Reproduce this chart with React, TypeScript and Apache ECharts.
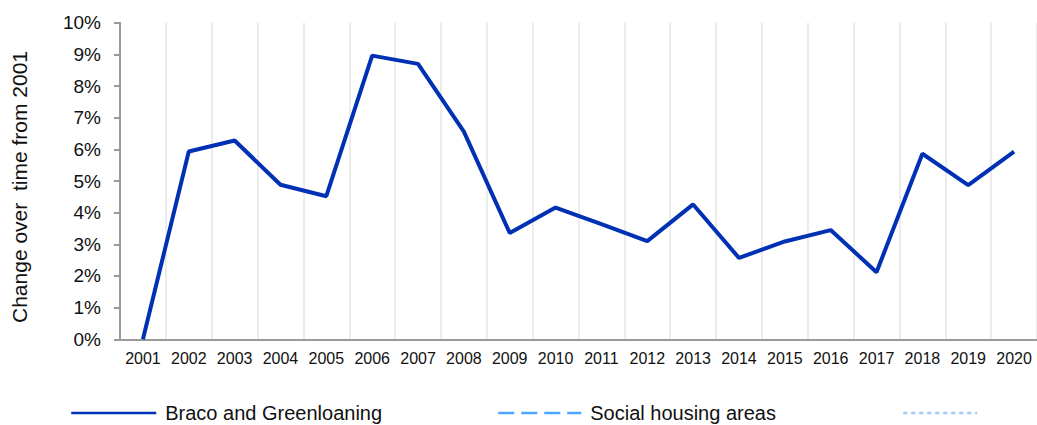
import React, { useEffect, useRef } from "react";
import * as echarts from "echarts";

const years = ["2001","2002","2003","2004","2005","2006","2007","2008","2009","2010","2011","2012","2013","2014","2015","2016","2017","2018","2019","2020"];
const bracoValues = [0, 5.93, 6.28, 4.88, 4.52, 8.96, 8.7, 6.56, 3.36, 4.16, 3.64, 3.1, 4.26, 2.57, 3.09, 3.45, 2.12, 5.86, 4.87, 5.93];
const socialValues: number[] = [];
const otherValues: number[] = [];
const yTicksMax = 10;
const seriesNames = ["Braco and Greenloaning", "Social housing areas", " "];

const FONT = "'Liberation Sans', Arial, sans-serif";

export default function App() {
  const ref = useRef<HTMLDivElement>(null);
  useEffect(() => {
    if (!ref.current) return;
    const chart = echarts.init(ref.current, undefined, { renderer: "svg" });
    const legendBase = {
      top: 403,
      padding: 0,
      itemWidth: 85,
      itemHeight: 14,
      itemStyle: { opacity: 0 },
      lineStyle: { width: 2.5 },
      textStyle: { fontFamily: FONT, fontSize: 20, color: "#111", padding: [0, 0, 0, 4] },
      selectedMode: false,
    };
    chart.setOption({
      animation: false,
      backgroundColor: "#fff",
      textStyle: { fontFamily: FONT },
      grid: { left: 120, top: 22.7, width: 918, height: 316.6, containLabel: false },
      legend: [
        { ...legendBase, left: 70, data: [seriesNames[0]] },
        { ...legendBase, left: 497, itemWidth: 83, data: [seriesNames[1]] },
        { ...legendBase, left: 902, itemWidth: 74, data: [seriesNames[2]] },
      ],
      xAxis: {
        type: "category",
        data: years,
        boundaryGap: true,
        axisLine: { show: true, lineStyle: { color: "#9a9a9a", width: 2 } },
        axisTick: { show: false },
        axisLabel: { color: "#111", fontSize: 16, margin: 11, fontFamily: FONT, interval: 0 },
        splitLine: { show: true, interval: 0, lineStyle: { color: "#ececec", width: 2 } },
      },
      yAxis: {
        type: "value",
        min: 0,
        max: yTicksMax,
        interval: 1,
        name: "Change over  time from 2001",
        nameLocation: "middle",
        nameGap: 90,
        nameRotate: 90,
        nameTextStyle: { fontSize: 21, color: "#111", fontFamily: FONT, padding: [0, 12, 0, 0] },
        axisLine: { show: true, lineStyle: { color: "#9a9a9a", width: 2 } },
        axisTick: { show: true, inside: false, length: 6, lineStyle: { color: "#9a9a9a", width: 2 } },
        axisLabel: { color: "#111", fontSize: 19, margin: 19, fontFamily: FONT, formatter: "{value}%" },
        splitLine: { show: false },
      },
      series: [
        {
          name: seriesNames[0],
          type: "line",
          data: bracoValues,
          symbol: "none",
          lineStyle: { color: "#0030b4", width: 4 },
          itemStyle: { color: "#0030b4" },
        },
        {
          name: seriesNames[1],
          type: "line",
          data: socialValues,
          symbol: "none",
          lineStyle: { color: "#4da6ff", width: 2.5, type: [16, 7] },
          itemStyle: { color: "#4da6ff" },
        },
        {
          name: seriesNames[2],
          type: "line",
          data: otherValues,
          symbol: "none",
          lineStyle: { color: "#9ecbf7", width: 2.5, type: [4, 4] },
          itemStyle: { color: "#9ecbf7" },
        },
      ],
    });
    return () => chart.dispose();
  }, []);
  return (
    <div
      ref={ref}
      style={{ position: "fixed", left: 0, top: 0, width: 1037, height: 425, background: "#fff" }}
    />
  );
}
